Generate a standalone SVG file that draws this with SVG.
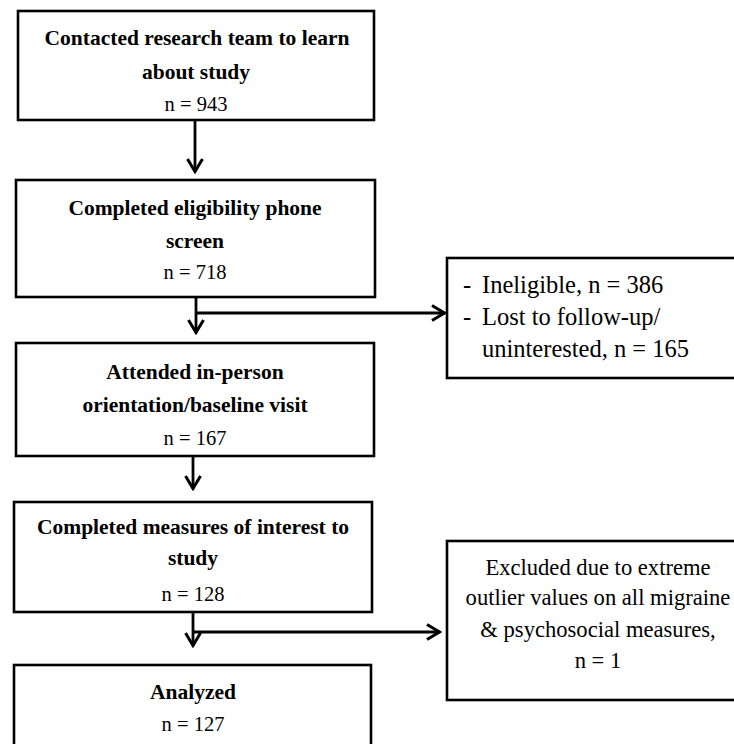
<svg xmlns="http://www.w3.org/2000/svg" width="734" height="744" viewBox="0 0 734 744">
<defs>
<marker id="ah" viewBox="0 0 16 18" refX="14.5" refY="9" markerWidth="16" markerHeight="18" markerUnits="userSpaceOnUse" orient="auto">
<path d="M1.5,1.5 L14,9 L1.5,16.5" fill="none" stroke="#000" stroke-width="3"/>
</marker>
</defs>
<style>
.box{fill:#fff;stroke:#000;stroke-width:2.6}
.b{font-family:"Liberation Serif",serif;font-weight:bold;font-size:21.5px;text-anchor:middle;fill:#000}
.r{font-family:"Liberation Serif",serif;font-size:20.5px;text-anchor:middle;fill:#000}
.r2{font-family:"Liberation Serif",serif;font-size:22.6px;text-anchor:middle;fill:#000}
.t{font-family:"Liberation Serif",serif;font-size:24.5px;fill:#000}
.c{fill:none;stroke:#000;stroke-width:2.8}
</style>
<rect width="734" height="744" fill="#fff"/>
<g id="connectors">
<line class="c" x1="195" y1="121" x2="195" y2="172" marker-end="url(#ah)"/>
<line class="c" x1="196" y1="298" x2="196" y2="333" marker-end="url(#ah)"/>
<line class="c" x1="196" y1="313" x2="445" y2="313" marker-end="url(#ah)"/>
<line class="c" x1="193" y1="457" x2="193" y2="489" marker-end="url(#ah)"/>
<line class="c" x1="193" y1="613" x2="193" y2="646" marker-end="url(#ah)"/>
<line class="c" x1="193" y1="632" x2="440" y2="632" marker-end="url(#ah)"/>
</g>
<g id="n1">
<rect class="box" x="18" y="11" width="356" height="109"/>
<text class="b" x="197" y="45">Contacted research team to learn</text>
<text class="b" x="196" y="79">about study</text>
<text class="r" x="196" y="111">n = 943</text>
</g>
<g id="n2">
<rect class="box" x="16" y="180" width="359" height="117"/>
<text class="b" x="195" y="215">Completed eligibility phone</text>
<text class="b" x="195" y="248">screen</text>
<text class="r" x="195" y="279">n = 718</text>
</g>
<g id="n3">
<rect class="box" x="16" y="343" width="358" height="113"/>
<text class="b" x="195" y="379">Attended in-person</text>
<text class="b" x="195" y="412">orientation/baseline visit</text>
<text class="r" x="195" y="445">n = 167</text>
</g>
<g id="n4">
<rect class="box" x="14" y="502" width="358" height="110"/>
<text class="b" x="193" y="534">Completed measures of interest to</text>
<text class="b" x="193" y="565">study</text>
<text class="r" x="193" y="601">n = 128</text>
</g>
<g id="n5">
<rect class="box" x="14" y="665" width="357" height="100"/>
<text class="b" x="193" y="699">Analyzed</text>
<text class="r" x="193" y="731">n = 127</text>
</g>
<g id="x1">
<rect class="box" x="447" y="258" width="300" height="120"/>
<text class="t" x="463" y="293">-</text>
<text class="t" x="482" y="293">Ineligible, n = 386</text>
<text class="t" x="463" y="325">-</text>
<text class="t" x="482" y="325">Lost to follow-up/</text>
<text class="t" x="482" y="357">uninterested, n = 165</text>
</g>
<g id="x2">
<rect class="box" x="447" y="541" width="300" height="159"/>
<text class="r2" x="598" y="575">Excluded due to extreme</text>
<text class="r2" x="598" y="605">outlier values on all migraine</text>
<text class="r2" x="598" y="637">&amp; psychosocial measures,</text>
<text class="r2" x="598" y="668">n = 1</text>
</g>
</svg>
